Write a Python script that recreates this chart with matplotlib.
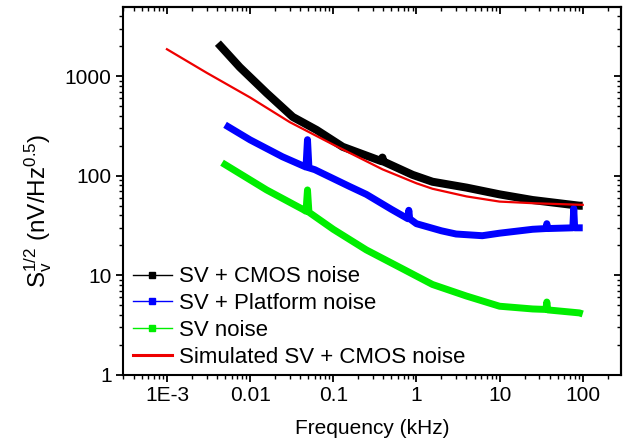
import numpy as np
from matplotlib import pyplot as plt
from matplotlib.lines import Line2D
from matplotlib.ticker import FixedLocator, LogLocator, NullFormatter

plt.rcParams["font.family"] = ["Liberation Sans", "DejaVu Sans"]
plt.rcParams["mathtext.fontset"] = "custom"
plt.rcParams["mathtext.rm"] = "Liberation Sans"
plt.rcParams["mathtext.it"] = "Liberation Sans:italic"

# values (frequency in kHz, noise in nV/Hz^0.5)
cmos_f = [0.0041, 0.0075, 0.0158, 0.0326, 0.063, 0.13, 0.38, 0.39, 0.40, 0.9, 1.56, 4, 10, 25, 91, 100]
cmos_v = [2140, 1230, 676, 389, 288, 195, 140, 152, 139, 102, 87, 76, 65, 57, 50, 50]

platform_f = [0.005, 0.01, 0.0245, 0.047, 0.049, 0.051, 0.06, 0.157, 0.25, 0.5, 0.79, 0.81, 0.83,
              1, 2, 3, 6.2, 10, 25, 36, 37, 38, 76, 78, 80, 100]
platform_v = [324, 229, 155, 122, 230, 120, 115, 78, 65, 46, 37, 45, 37,
              33, 28, 26, 25, 26.5, 29, 29.5, 33, 29.5, 30, 47, 30, 30]

sv_f = [0.0046, 0.0158, 0.043, 0.047, 0.049, 0.051, 0.1, 0.25, 0.7, 1.56, 4, 10, 25, 36, 37, 38, 91, 100]
sv_v = [135, 72, 46, 44, 72, 43, 29, 18, 11.5, 8.1, 6.2, 4.9, 4.6, 4.55, 5.4, 4.5, 4.2, 4.1]

sim_f = [0.001, 0.003, 0.01, 0.03, 0.1, 0.39, 1, 1.56, 4, 10, 25, 100]
sim_v = [1860, 1080, 610, 345, 205, 116, 84, 74, 62, 55, 53, 51]

labels = ["SV + CMOS noise", "SV + Platform noise", "SV noise", "Simulated SV + CMOS noise"]
colors = ["black", "#0000ff", "#00ee00", "#ee0000"]

xtick_vals = [1e-3, 1e-2, 1e-1, 1, 10, 100]
xtick_labels = ["1E-3", "0.01", "0.1", "1", "10", "100"]
ytick_vals = [1, 10, 100, 1000]
ytick_labels = ["1", "10", "100", "1000"]

fig = plt.figure(figsize=(6.3, 4.43), dpi=100)
ax = fig.add_axes([0.195, 0.1535, 0.791, 0.83])

ax.plot(cmos_f, cmos_v, color=colors[0], lw=5.8, solid_joinstyle="round", solid_capstyle="butt")
ax.plot(platform_f, platform_v, color=colors[1], lw=5.0, solid_joinstyle="round", solid_capstyle="butt")
ax.plot(sv_f, sv_v, color=colors[2], lw=5.0, solid_joinstyle="round", solid_capstyle="butt")
ax.plot(sim_f, sim_v, color=colors[3], lw=1.6)

ax.set_xscale("log")
ax.set_yscale("log")
ax.set_xlim(2.95e-4, 290)
ax.set_ylim(1, 4900)

ax.xaxis.set_major_locator(FixedLocator(xtick_vals))
ax.set_xticklabels(xtick_labels)
ax.yaxis.set_major_locator(FixedLocator(ytick_vals))
ax.set_yticklabels(ytick_labels)
ax.xaxis.set_minor_locator(LogLocator(base=10, subs=np.arange(2, 10)))
ax.yaxis.set_minor_locator(LogLocator(base=10, subs=np.arange(2, 10)))
ax.xaxis.set_minor_formatter(NullFormatter())
ax.yaxis.set_minor_formatter(NullFormatter())

for s in ax.spines.values():
    s.set_linewidth(1.5)
ax.tick_params(which="major", direction="out", length=5, width=1.3, labelsize=15, pad=3)
ax.tick_params(which="minor", direction="out", length=3, width=1.0)

# mirrored ticks on top/right, pointing inward
ax2 = ax.secondary_xaxis("top")
ax2.set_xscale("log")
ax2.xaxis.set_major_locator(FixedLocator(xtick_vals))
ax2.xaxis.set_minor_locator(LogLocator(base=10, subs=np.arange(2, 10)))
ax2.tick_params(which="major", direction="in", length=5, width=1.3, labeltop=False)
ax2.tick_params(which="minor", direction="in", length=3, width=1.0)
ax2.xaxis.set_minor_formatter(NullFormatter())
ax2.spines["top"].set_linewidth(1.5)
ay2 = ax.secondary_yaxis("right")
ay2.set_yscale("log")
ay2.yaxis.set_major_locator(FixedLocator(ytick_vals))
ay2.yaxis.set_minor_locator(LogLocator(base=10, subs=np.arange(2, 10)))
ay2.tick_params(which="major", direction="in", length=5, width=1.3, labelright=False)
ay2.tick_params(which="minor", direction="in", length=3, width=1.0)
ay2.yaxis.set_minor_formatter(NullFormatter())
ay2.spines["right"].set_linewidth(1.5)

ax.set_xlabel("Frequency (kHz)", fontsize=15, labelpad=10)
fig.text(0.060, 1 - 211 / 443, r"$\mathregular{S_v^{1/2}}$ (nV/Hz$^{\mathregular{0.5}}$)",
         rotation=90, ha="center", va="center", fontsize=17.5)

handles = [
    Line2D([], [], color=colors[0], lw=1.0, marker="s", markersize=5),
    Line2D([], [], color=colors[1], lw=1.0, marker="s", markersize=5),
    Line2D([], [], color=colors[2], lw=1.0, marker="s", markersize=5),
    Line2D([], [], color=colors[3], lw=2.2),
]
ax.legend(handles, labels, loc="lower left", bbox_to_anchor=(0.02, 0.02), frameon=False,
          fontsize=16, handlelength=1.75, handletextpad=0.35, labelspacing=0.26,
          borderpad=0, borderaxespad=0)

fig.savefig("out.png", dpi=100)
